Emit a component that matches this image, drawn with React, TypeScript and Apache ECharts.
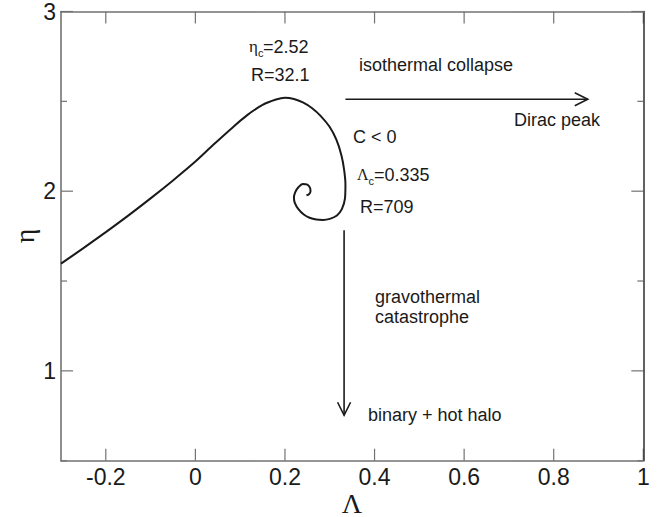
import { useEffect, useRef } from "react";
import * as echarts from "echarts";

// Caloric curve eta(Lambda): rises to the eta_c maximum, then winds into a spiral
const lambdaValues = [
  -0.3, -0.25, -0.2, -0.15, -0.1, -0.05, 0.0, 0.04, 0.08, 0.115, 0.15, 0.18, 0.2,
  0.22, 0.24, 0.26, 0.28, 0.3, 0.315, 0.326, 0.332, 0.335, 0.334, 0.327, 0.316,
  0.3, 0.285, 0.27, 0.255, 0.242, 0.23, 0.222, 0.22, 0.223, 0.23, 0.24, 0.25,
  0.256, 0.257, 0.253, 0.248,
];
const etaValues = [
  1.597, 1.683, 1.772, 1.864, 1.96, 2.06, 2.165, 2.258, 2.348, 2.422, 2.48, 2.51,
  2.52, 2.513, 2.494, 2.463, 2.418, 2.357, 2.285, 2.2, 2.12, 2.04, 1.96, 1.9,
  1.865, 1.846, 1.84, 1.842, 1.852, 1.87, 1.9, 1.935, 1.965, 1.995, 2.022, 2.04,
  2.036, 2.018, 1.998, 1.982, 1.977,
];

const xTickValues = [-0.2, 0, 0.2, 0.4, 0.6, 0.8, 1];
const yMajorTicks = [1, 2, 3];
const yMinorTicks = [0.5, 1.5, 2.5];

const X_MIN = -0.3;
const X_MAX = 1;
const Y_MIN = 0.5;
const Y_MAX = 3;

// Arrows in data coordinates: [from, to]
const collapseArrow = [
  [0.335, 2.512],
  [0.876, 2.512],
];
const catastropheArrow = [
  [0.332, 1.782],
  [0.332, 0.753],
];

const SANS = "'Liberation Sans', Arial, Helvetica, sans-serif";
const SERIF = "'Liberation Serif', 'Times New Roman', serif";
const AXIS_GRAY = "#727272";
const INK = "#1a1a1a";

function label(text: string, x: number, y: number, size = 18, family = SANS) {
  return {
    type: "text",
    x,
    y,
    silent: true,
    style: {
      text,
      fill: INK,
      fontSize: size,
      fontFamily: family,
      align: "left",
      verticalAlign: "middle",
    },
  };
}

function arrow(p0: number[], p1: number[]) {
  const dx = p1[0] - p0[0];
  const dy = p1[1] - p0[1];
  const len = Math.hypot(dx, dy) || 1;
  const ux = dx / len;
  const uy = dy / len;
  const headLen = 13;
  const headHalf = 6.5;
  const bx = p1[0] - ux * headLen;
  const by = p1[1] - uy * headLen;
  const lineStyle = { stroke: INK, lineWidth: 1.6, fill: "none" };
  return [
    { type: "line", silent: true, shape: { x1: p0[0], y1: p0[1], x2: p1[0], y2: p1[1] }, style: lineStyle },
    {
      type: "polyline",
      silent: true,
      shape: {
        points: [
          [bx - uy * headHalf, by + ux * headHalf],
          [p1[0], p1[1]],
          [bx + uy * headHalf, by - ux * headHalf],
        ],
      },
      style: lineStyle,
    },
  ];
}

function tick(x1: number, y1: number, x2: number, y2: number) {
  return {
    type: "line",
    silent: true,
    shape: { x1, y1, x2, y2 },
    style: { stroke: AXIS_GRAY, lineWidth: 1.2 },
  };
}

export default function App() {
  const ref = useRef<HTMLDivElement>(null);

  useEffect(() => {
    if (!ref.current) return;
    const chart = echarts.init(ref.current, undefined, { renderer: "svg" });
    const curve = lambdaValues.map((l, i) => [l, etaValues[i]]);

    const xBase = {
      type: "value",
      min: X_MIN,
      max: X_MAX,
      splitNumber: 6,
      splitLine: { show: false },
      axisTick: { show: false },
    };
    const yBase = {
      type: "value",
      min: Y_MIN,
      max: Y_MAX,
      splitLine: { show: false },
      axisTick: { show: false },
    };

    chart.setOption({
      animation: false,
      backgroundColor: "#ffffff",
      grid: { left: 61, right: 17.7, top: 11, bottom: 56.3, containLabel: false },
      xAxis: [
        {
          ...xBase,
          position: "bottom",
          axisLine: { show: true, onZero: false, lineStyle: { color: AXIS_GRAY, width: 1.6 } },
          axisLabel: {
            show: true,
            customValues: xTickValues,
            margin: 5,
            color: INK,
            fontSize: 23,
            fontFamily: SANS,
          },
        },
        {
          ...xBase,
          position: "top",
          axisLine: { show: true, onZero: false, lineStyle: { color: AXIS_GRAY, width: 1.6 } },
          axisLabel: { show: false },
        },
      ],
      yAxis: [
        {
          ...yBase,
          position: "left",
          axisLine: { show: true, onZero: false, lineStyle: { color: AXIS_GRAY, width: 1.6 } },
          axisLabel: {
            show: true,
            customValues: yMajorTicks,
            margin: 5,
            color: INK,
            fontSize: 23,
            fontFamily: SANS,
          },
        },
        {
          ...yBase,
          position: "right",
          axisLine: { show: true, onZero: false, lineStyle: { color: "#3a3a3a", width: 1.6 } },
          axisLabel: { show: false },
        },
      ],
      series: [
        {
          type: "line",
          xAxisIndex: 0,
          yAxisIndex: 0,
          data: curve,
          showSymbol: false,
          smooth: 0.3,
          lineStyle: { color: INK, width: 2 },
          silent: true,
        },
      ],
    });

    const px = (p: number[]) =>
      chart.convertToPixel({ xAxisIndex: 0, yAxisIndex: 0 }, p) as number[];

    // Inward-pointing ticks on all four sides of the frame
    const ticks: any[] = [];
    xTickValues.forEach((v) => {
      const b = px([v, Y_MIN]);
      const t = px([v, Y_MAX]);
      ticks.push(tick(b[0], b[1], b[0], b[1] - 12));
      ticks.push(tick(t[0], t[1], t[0], t[1] + 12));
    });
    const yTicks = [
      ...yMajorTicks.map((v) => [v, 12]),
      ...yMinorTicks.map((v) => [v, 6]),
    ];
    yTicks.forEach(([v, len]) => {
      const l = px([X_MIN, v]);
      const r = px([X_MAX, v]);
      ticks.push(tick(l[0], l[1], l[0] + len, l[1]));
      ticks.push(tick(r[0], r[1], r[0] - len, r[1]));
    });

    const elements: any[] = [
      ...ticks,
      // eta_c and R at the maximum
      label("\u03b7", 249, 46, 17, SERIF),
      label("c", 258, 53, 11),
      label("=2.52", 263, 47),
      label("R=32.1", 251, 75),
      label("isothermal collapse", 359, 65),
      label("Dirac peak", 514, 120),
      label("C < 0", 353, 137),
      // Lambda_c and R at the turning point
      label("\u039b", 357, 174, 16, SERIF),
      label("c", 368.5, 181, 11),
      label("=0.335", 374, 175),
      label("R=709", 360, 207),
      label("gravothermal", 375, 297),
      label("catastrophe", 375, 317),
      label("binary + hot halo", 368, 415),
      // axis titles
      {
        type: "text",
        x: 352,
        y: 503,
        silent: true,
        style: {
          text: "\u039b",
          fill: INK,
          fontSize: 28,
          fontFamily: SERIF,
          align: "center",
          verticalAlign: "middle",
        },
      },
      {
        type: "text",
        x: 24,
        y: 236,
        rotation: Math.PI / 2,
        silent: true,
        style: {
          text: "\u03b7",
          fill: INK,
          fontSize: 28,
          fontFamily: SERIF,
          align: "center",
          verticalAlign: "middle",
        },
      },
      ...arrow(px(collapseArrow[0]), px(collapseArrow[1])),
      ...arrow(px(catastropheArrow[0]), px(catastropheArrow[1])),
    ];

    chart.setOption({ graphic: { elements } });

    return () => chart.dispose();
  }, []);

  return (
    <div
      ref={ref}
      style={{ position: "fixed", left: 0, top: 0, width: 661, height: 517, background: "#fff" }}
    />
  );
}
